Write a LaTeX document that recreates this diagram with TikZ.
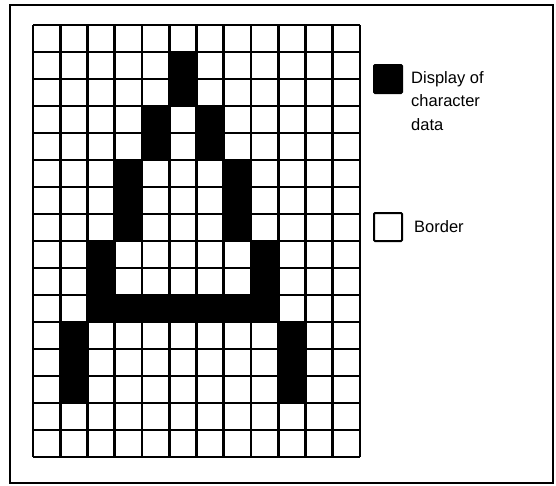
\documentclass[tikz,border=0pt]{standalone}
\usepackage{fontspec}
\setmainfont{Liberation Sans}
\usetikzlibrary{positioning}

\begin{document}
\begin{tikzpicture}[
  x=1pt, y=-1pt,
  font=\fontsize{16.5}{23.5}\selectfont,
  frame/.style={line width=1.6pt},
  gridline/.style={line width=2.6pt},
  pixel/.style={fill=black},
  keybox/.style={rectangle, draw, line width=2pt, rounded corners=1pt, minimum width=28pt, minimum height=28pt, inner sep=0pt},
  keytext/.style={align=left, inner sep=0pt}
]
  \useasboundingbox (0,0) rectangle (556,485);
  \draw[frame] (10,5) rectangle (553,483);

  % character cells
  \foreach \c/\r in {5/1,5/2,4/3,6/3,4/4,6/4,3/5,7/5,3/6,7/6,3/7,7/7,
                     2/8,8/8,2/9,8/9,2/10,3/10,4/10,5/10,6/10,7/10,8/10,
                     1/11,9/11,1/12,9/12,1/13,9/13}
    \fill[pixel] ({33+\c*27.25},{25+\r*27}) rectangle +(27.25,27);

  % grid
  \foreach \i in {0,...,12}
    \draw[gridline] ({33+\i*27.25},25) -- ++(0,432);
  \foreach \j in {0,...,16}
    \draw[gridline] (33,{25+\j*27}) -- ++(327,0);

  % key
  \node[keybox, fill=black] (datakey) at (388,79) {};
  \node[keytext, below right=7pt and 8pt of datakey.north east] (datatext) {Display of\\character\\data};
  \node[keybox] (borderkey) at (388,227) {};
  \node[keytext, right=11pt of borderkey] (bordertext) {Border};
\end{tikzpicture}
\end{document}
